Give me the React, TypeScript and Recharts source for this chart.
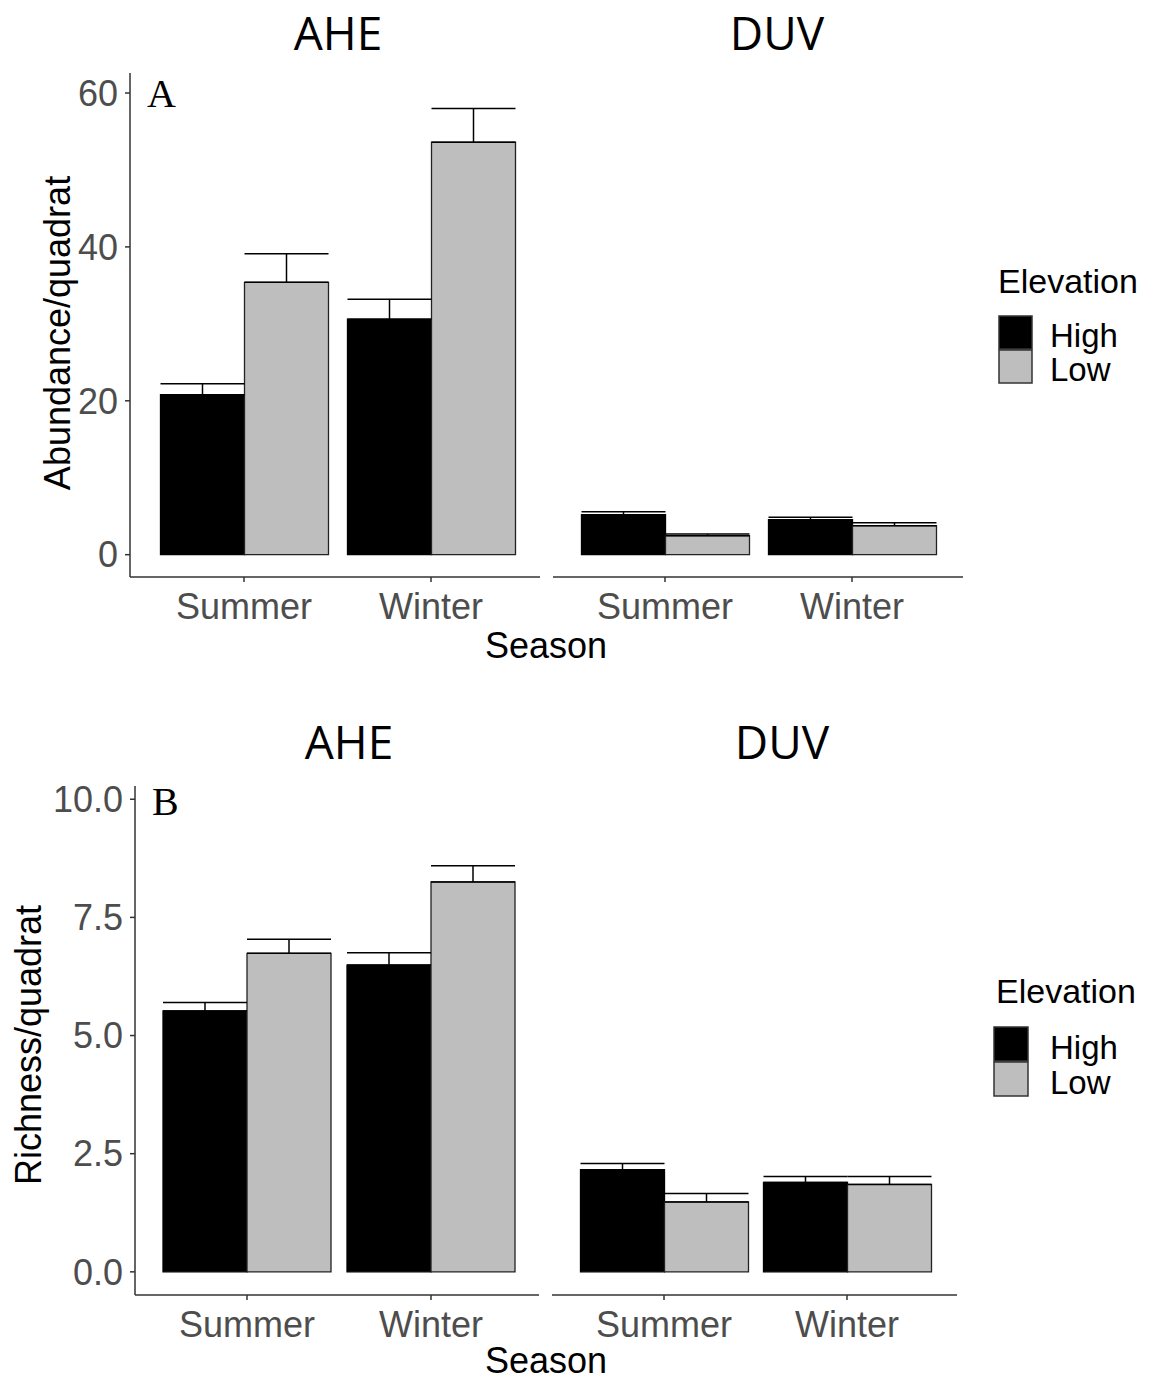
import { BarChart, Bar, XAxis, YAxis, ErrorBar } from "recharts";

const SEASONS = ["Summer", "Winter"];

// Panel A – abundance per quadrat (mean and upper SE)
const ABUND_AHE_HIGH = [20.8, 30.6];
const ABUND_AHE_HIGH_SE = [1.4, 2.6];
const ABUND_AHE_LOW = [35.4, 53.6];
const ABUND_AHE_LOW_SE = [3.7, 4.4];
const ABUND_DUV_HIGH = [5.2, 4.55];
const ABUND_DUV_HIGH_SE = [0.38, 0.3];
const ABUND_DUV_LOW = [2.47, 3.77];
const ABUND_DUV_LOW_SE = [0.21, 0.39];

// Panel B – richness per quadrat
const RICH_AHE_HIGH = [5.52, 6.49];
const RICH_AHE_HIGH_SE = [0.18, 0.26];
const RICH_AHE_LOW = [6.74, 8.25];
const RICH_AHE_LOW_SE = [0.3, 0.34];
const RICH_DUV_HIGH = [2.16, 1.89];
const RICH_DUV_HIGH_SE = [0.13, 0.13];
const RICH_DUV_LOW = [1.48, 1.85];
const RICH_DUV_LOW_SE = [0.18, 0.17];

const ABUND_TICKS = [0, 20, 40, 60];
const RICH_TICKS = [0, 2.5, 5, 7.5, 10];
const ABUND_DOMAIN: [number, number] = [-2.9, 62.6];
const RICH_DOMAIN: [number, number] = [-0.49, 10.28];

const SANS = "'Liberation Sans', Arial, sans-serif";
const AXIS_LINE = { stroke: "#333", strokeWidth: 1.5 };
const TICK_STYLE = { fill: "#4d4d4d", fontSize: 36, fontFamily: SANS };

function buildRows(high: number[], highSe: number[], low: number[], lowSe: number[]) {
  return SEASONS.map((season, i) => ({
    season,
    high: high[i],
    highErr: [0, highSe[i]],
    low: low[i],
    lowErr: [0, lowSe[i]],
  }));
}

interface FacetProps {
  rows: ReturnType<typeof buildRows>;
  left: number;
  right: number;
  top: number;
  bottom: number;
  padL: number;
  padR: number;
  domain: [number, number];
  ticks: number[];
  showY: boolean;
  decimals: number;
}

// one ggplot facet: plot area from (left, top) to (right, bottom)
function Facet({ rows, left, right, top, bottom, padL, padR, domain, ticks, showY, decimals }: FacetProps) {
  const yw = showY ? 110 : 0;
  const mt = 20;
  const xh = 70;
  const plotW = right - left;
  const plotH = bottom - top;
  return (
    <div style={{ position: "absolute", left: left - yw, top: top - mt }}>
      <BarChart
        width={plotW + yw}
        height={plotH + xh + mt}
        data={rows}
        margin={{ top: mt, right: 0, bottom: 0, left: 0 }}
        barGap={0}
        barSize={84}
      >
        <XAxis
          dataKey="season"
          height={xh}
          interval={0}
          padding={{ left: padL, right: padR }}
          tickSize={5}
          tickMargin={11}
          tick={TICK_STYLE}
          axisLine={AXIS_LINE}
          tickLine={AXIS_LINE}
        />
        <YAxis
          hide={!showY}
          width={yw}
          type="number"
          domain={domain}
          ticks={ticks}
          allowDataOverflow
          tickSize={5}
          tickMargin={7}
          tick={TICK_STYLE}
          axisLine={AXIS_LINE}
          tickLine={AXIS_LINE}
          tickFormatter={(v: number) => v.toFixed(decimals)}
        />
        <Bar dataKey="high" fill="#000000" stroke="#000" strokeWidth={1.3} isAnimationActive={false}>
          <ErrorBar dataKey="highErr" width={42} stroke="#000" strokeWidth={1.5} direction="y" />
        </Bar>
        <Bar dataKey="low" fill="#bebebe" stroke="#222" strokeWidth={1.3} isAnimationActive={false}>
          <ErrorBar dataKey="lowErr" width={42} stroke="#000" strokeWidth={1.5} direction="y" />
        </Bar>
      </BarChart>
    </div>
  );
}

function Legend({ x, titleY, keyX, keyY, keySize, labelX }: { x: number; titleY: number; keyX: number; keyY: number; keySize: number; labelX: number }) {
  return (
    <g fontFamily={SANS} fontSize={34} fill="#000">
      <text x={x} y={titleY}>Elevation</text>
      <rect x={keyX} y={keyY} width={keySize} height={keySize} fill="#000" stroke="#333" strokeWidth={1.5} />
      <rect x={keyX} y={keyY + keySize + 1} width={keySize} height={keySize} fill="#bebebe" stroke="#333" strokeWidth={1.5} />
      <text x={labelX} y={keyY + keySize - 2} fontSize={33}>High</text>
      <text x={labelX} y={keyY + 2 * keySize - 1} fontSize={33}>Low</text>
    </g>
  );
}

export default function App() {
  const aAhe = buildRows(ABUND_AHE_HIGH, ABUND_AHE_HIGH_SE, ABUND_AHE_LOW, ABUND_AHE_LOW_SE);
  const aDuv = buildRows(ABUND_DUV_HIGH, ABUND_DUV_HIGH_SE, ABUND_DUV_LOW, ABUND_DUV_LOW_SE);
  const bAhe = buildRows(RICH_AHE_HIGH, RICH_AHE_HIGH_SE, RICH_AHE_LOW, RICH_AHE_LOW_SE);
  const bDuv = buildRows(RICH_DUV_HIGH, RICH_DUV_HIGH_SE, RICH_DUV_LOW, RICH_DUV_LOW_SE);

  return (
    <div style={{ position: "absolute", left: 0, top: 0, width: 1154, height: 1382, background: "#fff", overflow: "hidden" }}>
      <Facet rows={aAhe} left={130} right={540} top={73} bottom={577} padL={20.5} padR={15.5}
        domain={ABUND_DOMAIN} ticks={ABUND_TICKS} showY decimals={0} />
      <Facet rows={aDuv} left={553} right={963} top={73} bottom={577} padL={18.5} padR={17.5}
        domain={ABUND_DOMAIN} ticks={ABUND_TICKS} showY={false} decimals={0} />
      <Facet rows={bAhe} left={135} right={539} top={786} bottom={1295} padL={20} padR={16}
        domain={RICH_DOMAIN} ticks={RICH_TICKS} showY decimals={1} />
      <Facet rows={bDuv} left={552} right={957} top={786} bottom={1295} padL={20.5} padR={18.5}
        domain={RICH_DOMAIN} ticks={RICH_TICKS} showY={false} decimals={1} />

      <svg width={1154} height={1382} style={{ position: "absolute", left: 0, top: 0, pointerEvents: "none" }}>
        {/* facet titles */}
        <g fontFamily="'Open Sans', 'Noto Sans', sans-serif" fontSize={46} textAnchor="middle" fill="#000">
          <text x={338} y={50}>AHE</text>
          <text x={777} y={50}>DUV</text>
          <text x={349} y={759}>AHE</text>
          <text x={782} y={759}>DUV</text>
        </g>
        {/* panel letters */}
        <g fontFamily="'Liberation Serif', 'Times New Roman', serif" fontSize={40} fill="#000">
          <text x={147} y={107}>A</text>
          <text x={152} y={815}>B</text>
        </g>
        {/* axis titles */}
        <g fontFamily={SANS} fontSize={36} fill="#000" textAnchor="middle">
          <text x={546} y={658}>Season</text>
          <text x={546} y={1373}>Season</text>
          <text x={70} y={333} transform="rotate(-90 70 333)">Abundance/quadrat</text>
          <text x={41} y={1045} transform="rotate(-90 41 1045)">Richness/quadrat</text>
        </g>
        <Legend x={998} titleY={293} keyX={999} keyY={316} keySize={33} labelX={1050} />
        <Legend x={996} titleY={1003} keyX={994} keyY={1027} keySize={34} labelX={1050} />
      </svg>
    </div>
  );
}
